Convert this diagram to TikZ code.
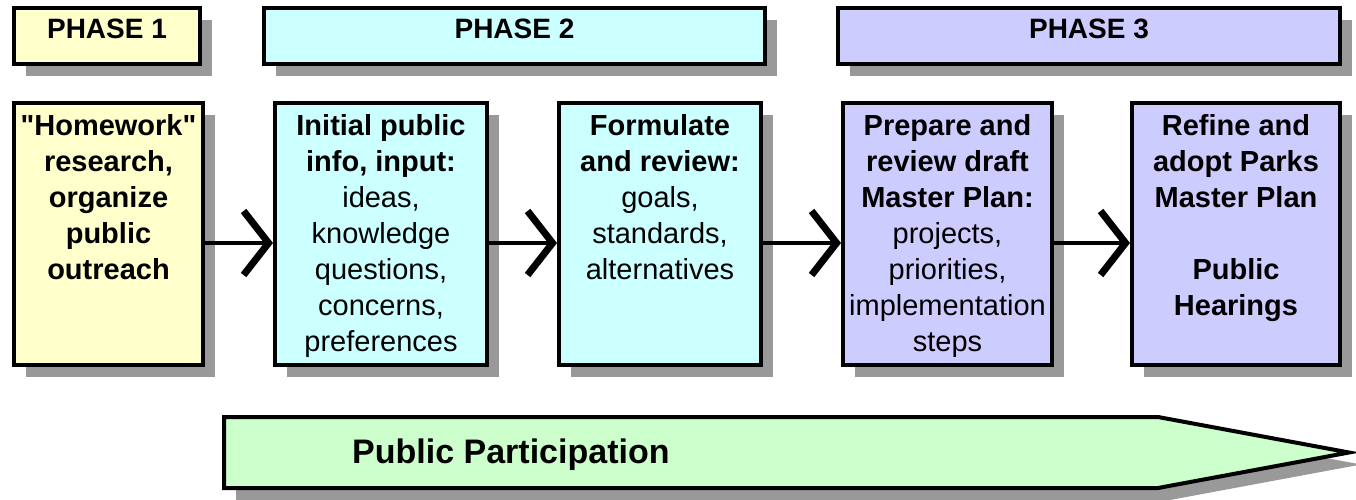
\documentclass[tikz,border=0pt]{standalone}
\usepackage{fontspec}
\setmainfont{Liberation Sans}
\usetikzlibrary{arrows.meta,shadows}

\definecolor{phaseone}{HTML}{FFFFCC}
\definecolor{phasetwo}{HTML}{CCFFFF}
\definecolor{phasethree}{HTML}{CCCCFF}
\definecolor{partgreen}{HTML}{CCFFCC}
\definecolor{shade}{HTML}{999999}

\begin{document}
\begin{tikzpicture}[x=1pt,y=-1pt,
  shadowed/.style={drop shadow={shadow xshift=12pt,shadow yshift=-12pt,fill=shade,opacity=1}},
  head/.style={draw,line width=4pt,shadowed,minimum height=56pt,text height=20pt,text depth=15pt,
    font=\fontsize{28}{34}\selectfont\bfseries},
  stage/.style={draw,line width=4pt,shadowed,minimum height=262pt},
  words/.style={anchor=north,align=center,inner sep=0pt,yshift=-13pt,font=\fontsize{29}{36}\selectfont},
  boldwords/.style={words,font=\fontsize{29}{36}\selectfont\bfseries},
  link/.style={line width=4.5pt,-{Straight Barb[sharp,length=25pt,width=64pt,line width'=7pt]}}]
\useasboundingbox (0,0) rectangle (1356,500);

% phase headers
\node[head,fill=phaseone,minimum width=186pt] (ph1) at (107,36) {PHASE 1};
\node[head,fill=phasetwo,minimum width=501pt] (ph2) at (514.5,36) {PHASE 2};
\node[head,fill=phasethree,minimum width=502pt] (ph3) at (1089,36) {PHASE 3};

% steps
\node[stage,fill=phaseone,minimum width=189pt] (home) at (108.5,234) {};
\node[stage,fill=phasetwo,minimum width=212pt] (initial) at (381,234) {};
\node[stage,fill=phasetwo,minimum width=202pt] (formulate) at (660,234) {};
\node[stage,fill=phasethree,minimum width=209pt] (prepare) at (947.5,234) {};
\node[stage,fill=phasethree,minimum width=208pt] (refine) at (1236,234) {};

\node[boldwords] (hometxt) at (home.north) {\textquotedbl Homework\textquotedbl\\research,\\organize\\public\\outreach};
\node[words] (initialtxt) at (initial.north) {\textbf{Initial public}\\\textbf{info, input:}\\ideas,\\knowledge\\questions,\\concerns,\\preferences};
\node[words] (formulatetxt) at (formulate.north) {\textbf{Formulate}\\\textbf{and review:}\\goals,\\standards,\\alternatives};
\node[words] (preparetxt) at (prepare.north) {\textbf{Prepare and}\\\textbf{review draft}\\\textbf{Master Plan:}\\projects,\\priorities,\\implementation\\steps};
\node[boldwords] (refinetxt) at (refine.north) {Refine and\\adopt Parks\\Master Plan\\[36pt]Public\\Hearings};

\draw[link] ([yshift=-9pt]home.east) -- ([yshift=-9pt]initial.west);
\draw[link] ([yshift=-9pt]initial.east) -- ([yshift=-9pt]formulate.west);
\draw[link] ([yshift=-9pt]formulate.east) -- ([yshift=-9pt]prepare.west);
\draw[link] ([yshift=-9pt]prepare.east) -- ([yshift=-9pt]refine.west);

% participation band
\draw[line width=4pt,line join=miter,fill=partgreen,shadowed]
  (224,417) -- (1158,417) -- (1349,452.5) -- (1158,488) -- (224,488) -- cycle;
\node[anchor=base west,inner sep=0pt,font=\fontsize{34}{40}\selectfont\bfseries] (pp) at (352,463) {Public Participation};
\end{tikzpicture}
\end{document}
